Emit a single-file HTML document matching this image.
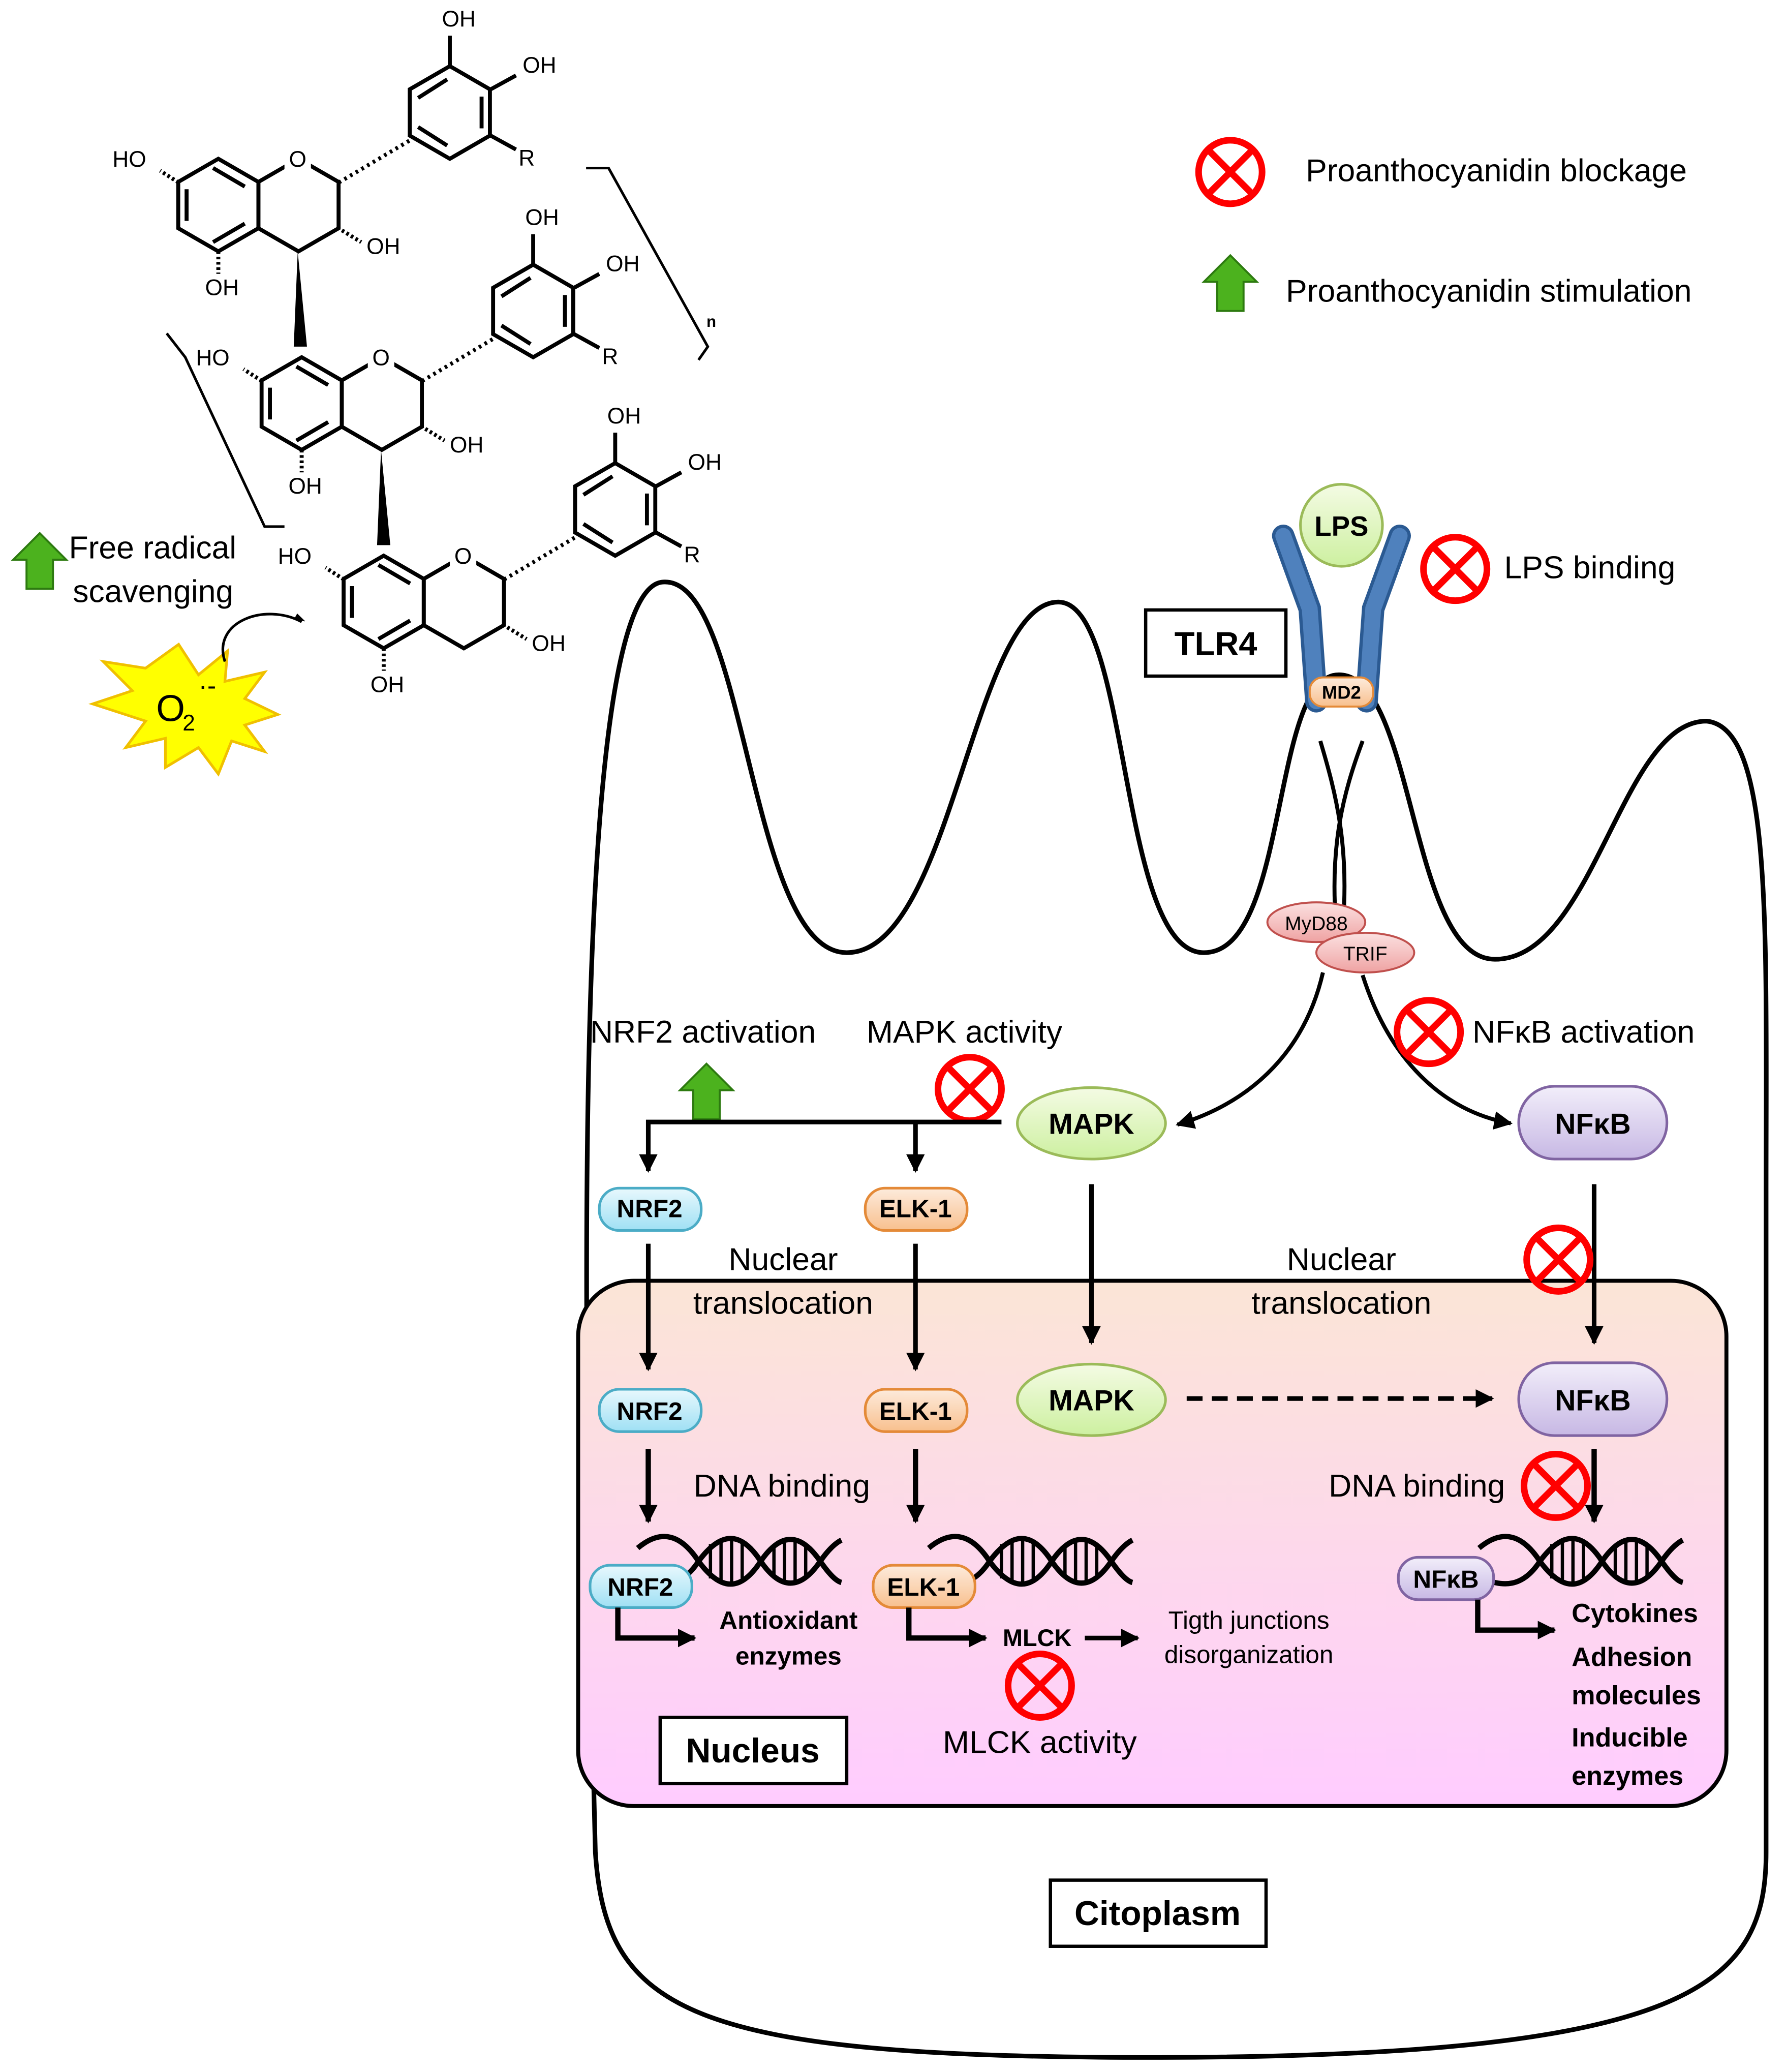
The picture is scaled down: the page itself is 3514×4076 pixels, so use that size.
<!DOCTYPE html>
<html><head><meta charset="utf-8"><style>
html,body{margin:0;padding:0;background:#fff}
svg{display:block}
text{font-family:"Liberation Sans","DejaVu Sans",sans-serif}
</style></head><body>
<svg width="3514" height="4076" viewBox="0 0 1350 1566" xmlns="http://www.w3.org/2000/svg">
<defs>
<linearGradient id="nuc" x1="0" y1="0" x2="0" y2="1"><stop offset="0" stop-color="#fbe5d6"/><stop offset="1" stop-color="#ffccff"/></linearGradient>
<linearGradient id="grn" x1="0" y1="0" x2="0" y2="1"><stop offset="0" stop-color="#f4fbe4"/><stop offset="1" stop-color="#cdf0a0"/></linearGradient>
<linearGradient id="pur" x1="0" y1="0" x2="0" y2="1"><stop offset="0" stop-color="#f2eefa"/><stop offset="1" stop-color="#c7b8e4"/></linearGradient>
<linearGradient id="blu" x1="0" y1="0" x2="0" y2="1"><stop offset="0" stop-color="#e8f8fd"/><stop offset="1" stop-color="#9fe0f4"/></linearGradient>
<linearGradient id="org" x1="0" y1="0" x2="0" y2="1"><stop offset="0" stop-color="#fdebdc"/><stop offset="1" stop-color="#f8c08e"/></linearGradient>
<linearGradient id="red" x1="0" y1="0" x2="0" y2="1"><stop offset="0" stop-color="#fbe1e1"/><stop offset="1" stop-color="#efa3a3"/></linearGradient>
<marker id="ah" markerWidth="8" markerHeight="8" refX="6" refY="4" orient="auto" markerUnits="userSpaceOnUse"><path d="M0,0 L14,4 L0,8z" transform="scale(0.6)"/></marker>
<marker id="a2" viewBox="0 0 10 10" markerWidth="14" markerHeight="14" refX="9" refY="5" orient="auto" markerUnits="userSpaceOnUse"><path d="M0,0L10,5L0,10z" fill="#000"/></marker>
<g id="blk"><circle r="24" fill="none" stroke="#f00" stroke-width="5"/><path d="M-16,-16L16,16M16,-16L-16,16" stroke="#f00" stroke-width="5"/></g>
<g id="up"><path d="M-10,40 L-10,18 L-20,18 L0,-2 L20,18 L10,18 L10,40z" fill="#4cb21e" stroke="#2d7a10" stroke-width="1.5"/></g>
<g id="unit">
<polygon points="0,-35 30.3,-17.5 30.3,17.5 0,35 -30.3,17.5 -30.3,-17.5" fill="none" stroke="#000" stroke-width="3"/>
<path d="M-24,-12 L-24,12 M-4,28 L20,14 M-4,-28 L20,-14" stroke="#000" stroke-width="3"/>
<polygon points="60.6,-35 90.9,-17.5 90.9,17.5 60.6,35 30.3,17.5 30.3,-17.5" fill="none" stroke="#000" stroke-width="3"/>
<rect x="50" y="-44" width="20" height="18" fill="#fff"/>
<text x="60" y="-29" font-size="17" text-anchor="middle">O</text>
<path d="M-30,-17 L-44,-26 M0,35 L0,52 M90,17 L108,28" stroke="#000" stroke-width="3" stroke-dasharray="2,2"/>
<text x="-80" y="-29" font-size="17">HO</text>
<text x="-10" y="68" font-size="17">OH</text>
<text x="112" y="37" font-size="17">OH</text>
<path d="M91,-17 L150,-52" stroke="#000" stroke-width="3" stroke-dasharray="2,3"/>
<g transform="translate(175,-70)">
<polygon points="0,-35 30.3,-17.5 30.3,17.5 0,35 -30.3,17.5 -30.3,-17.5" fill="none" stroke="#000" stroke-width="3"/>
<path d="M24,-12 L24,12 M-24,-11 L-2,-25 M-24,11 L-2,25" stroke="#000" stroke-width="3"/>
<path d="M0,-35 L0,-58 M30,-17 L50,-28 M30,17 L50,28" stroke="#000" stroke-width="3"/>
<text x="-6" y="-65" font-size="17">OH</text>
<text x="55" y="-30" font-size="17">OH</text>
<text x="52" y="40" font-size="17">R</text>
</g>
</g>
</defs>
<rect width="1350" height="1566" fill="#fff"/>
<use href="#unit" x="165" y="155"/>
<use href="#unit" x="228" y="305"/>
<use href="#unit" x="290" y="455"/>
<path d="M225,190 L222,262 L232,262z M288,340 L285,412 L295,412z" fill="#000"/>
<path d="M443,127 L460,127 L535,262 L528,272 M215,398 L200,398 L140,270 L126,252" fill="none" stroke="#000" stroke-width="2"/>
<text x="534" y="247" font-size="12" font-weight="bold">n</text>
<use href="#up" x="30" y="405"/>
<text x="52" y="422" font-size="24">Free radical</text>
<text x="55" y="455" font-size="24">scavenging</text>
<polygon points="135,487 150,510 172,492 170,515 200,508 185,528 210,540 185,548 200,568 175,560 165,585 150,565 125,580 125,558 95,565 110,545 70,532 100,522 78,500 110,505" fill="#ffff00" stroke="#f0c000" stroke-width="2"/>
<text x="118" y="545" font-size="28">O</text><text x="138" y="552" font-size="17">2</text><text x="150" y="525" font-size="20">·-</text>
<path d="M170,500 C160,470 200,455 228,470" fill="none" stroke="#000" stroke-width="2" marker-end="url(#ah)"/>
<use href="#blk" x="930" y="130"/>
<text x="987" y="137" font-size="24">Proanthocyanidin blockage</text>
<use href="#up" x="930" y="195"/>
<text x="972" y="228" font-size="24">Proanthocyanidin stimulation</text>
<path d="M450,1400 C440,1000 432,450 500,440 C565,432 565,720 640,720 C720,720 735,455 800,455 C855,455 845,720 910,720 C975,720 960,510 1012,510 C1070,510 1065,725 1130,725 C1205,725 1225,545 1290,545 C1340,550 1335,700 1335,900 L1335,1400 C1335,1500 1280,1555 870,1555 C520,1555 458,1520 450,1400 Z" fill="none" stroke="#000" stroke-width="3.5"/>
<rect x="437" y="968" width="868" height="397" rx="42" fill="url(#nuc)" stroke="#000" stroke-width="3"/>
<path d="M970,405 L990,460 L995,530 M1058,405 L1038,460 L1033,530" fill="none" stroke="#2b5a92" stroke-width="17" stroke-linecap="round"/>
<path d="M970,405 L990,460 L995,530 M1058,405 L1038,460 L1033,530" fill="none" stroke="#4f81bd" stroke-width="12" stroke-linecap="round"/>
<ellipse cx="1014" cy="397" rx="31" ry="31" fill="url(#grn)" stroke="#9bbb59" stroke-width="2"/>
<text x="1014" y="405" font-size="21" font-weight="bold" text-anchor="middle">LPS</text>
<rect x="990" y="512" width="48" height="22" rx="10" fill="url(#org)" stroke="#e48a38" stroke-width="1.5"/>
<text x="1014" y="528" font-size="14" font-weight="bold" text-anchor="middle">MD2</text>
<path d="M998,560 C1010,600 1020,640 1015,700 M1030,560 C1015,600 1005,640 1010,700" fill="none" stroke="#000" stroke-width="3"/>
<rect x="866" y="461" width="106" height="50" fill="#fff" stroke="#000" stroke-width="2.5"/>
<text x="919" y="495" font-size="25" font-weight="bold" text-anchor="middle">TLR4</text>
<use href="#blk" x="1100" y="430"/>
<text x="1137" y="437" font-size="24">LPS binding</text>
<ellipse cx="995" cy="697" rx="37" ry="15" fill="url(#red)" stroke="#c0504d" stroke-width="1.5"/>
<text x="995" y="703" font-size="15" text-anchor="middle">MyD88</text>
<ellipse cx="1032" cy="720" rx="37" ry="15" fill="url(#red)" stroke="#c0504d" stroke-width="1.5"/>
<text x="1032" y="726" font-size="15" text-anchor="middle">TRIF</text>
<path d="M1000,735 C985,800 940,835 890,850" fill="none" stroke="#000" stroke-width="3" marker-end="url(#a2)"/>
<path d="M1030,737 C1050,800 1090,840 1142,849" fill="none" stroke="#000" stroke-width="3" marker-end="url(#a2)"/>
<use href="#blk" x="1080" y="780"/>
<text x="1113" y="788" font-size="24">NFκB activation</text>
<text x="446" y="788" font-size="24">NRF2 activation</text>
<text x="655" y="788" font-size="24">MAPK activity</text>
<use href="#up" x="534" y="806"/>
<use href="#blk" x="733" y="823"/>
<path d="M757,848 L490,848 L490,885" fill="none" stroke="#000" stroke-width="3.5" marker-end="url(#a2)"/>
<path d="M692,848 L692,885" stroke="#000" stroke-width="3.5" marker-end="url(#a2)"/>
<ellipse cx="825" cy="849" rx="56" ry="27" fill="url(#grn)" stroke="#9bbb59" stroke-width="2"/>
<text x="825" y="857" font-size="22" font-weight="bold" text-anchor="middle">MAPK</text>
<rect x="1148" y="821" width="112" height="55" rx="27" fill="url(#pur)" stroke="#8064a2" stroke-width="2"/>
<text x="1204" y="857" font-size="22" font-weight="bold" text-anchor="middle">NFκB</text>
<rect x="453" y="898" width="77" height="32" rx="15" fill="url(#blu)" stroke="#4bacc6" stroke-width="2"/>
<text x="491" y="920" font-size="19" font-weight="bold" text-anchor="middle">NRF2</text>
<rect x="654" y="898" width="77" height="32" rx="15" fill="url(#org)" stroke="#e48a38" stroke-width="2"/>
<text x="692" y="920" font-size="19" font-weight="bold" text-anchor="middle">ELK-1</text>
<text x="592" y="960" font-size="24" text-anchor="middle">Nuclear</text>
<text x="592" y="993" font-size="24" text-anchor="middle">translocation</text>
<text x="1014" y="960" font-size="24" text-anchor="middle">Nuclear</text>
<text x="1014" y="993" font-size="24" text-anchor="middle">translocation</text>
<path d="M490,940 L490,1035" stroke="#000" stroke-width="3.5" marker-end="url(#a2)"/>
<path d="M692,940 L692,1035" stroke="#000" stroke-width="3.5" marker-end="url(#a2)"/>
<path d="M825,895 L825,1015" stroke="#000" stroke-width="3.5" marker-end="url(#a2)"/>
<path d="M1205,895 L1205,1015" stroke="#000" stroke-width="3.5" marker-end="url(#a2)"/>
<use href="#blk" x="1178" y="952"/>
<rect x="453" y="1050" width="77" height="32" rx="15" fill="url(#blu)" stroke="#4bacc6" stroke-width="2"/>
<text x="491" y="1073" font-size="19" font-weight="bold" text-anchor="middle">NRF2</text>
<rect x="654" y="1050" width="77" height="32" rx="15" fill="url(#org)" stroke="#e48a38" stroke-width="2"/>
<text x="692" y="1073" font-size="19" font-weight="bold" text-anchor="middle">ELK-1</text>
<ellipse cx="825" cy="1058" rx="56" ry="27" fill="url(#grn)" stroke="#9bbb59" stroke-width="2"/>
<text x="825" y="1066" font-size="22" font-weight="bold" text-anchor="middle">MAPK</text>
<rect x="1148" y="1030" width="112" height="55" rx="27" fill="url(#pur)" stroke="#8064a2" stroke-width="2"/>
<text x="1204" y="1066" font-size="22" font-weight="bold" text-anchor="middle">NFκB</text>
<path d="M897,1057 L1128,1057" stroke="#000" stroke-width="3.5" stroke-dasharray="12,7" marker-end="url(#a2)"/>
<path d="M490,1095 L490,1150" stroke="#000" stroke-width="4" marker-end="url(#a2)"/>
<path d="M692,1095 L692,1150" stroke="#000" stroke-width="4" marker-end="url(#a2)"/>
<path d="M1205,1095 L1205,1150" stroke="#000" stroke-width="4" marker-end="url(#a2)"/>
<text x="591" y="1131" font-size="24" text-anchor="middle">DNA binding</text>
<text x="1071" y="1131" font-size="24" text-anchor="middle">DNA binding</text>
<use href="#blk" x="1176" y="1123"/>
<g id="dna" fill="none" stroke="#000" stroke-width="4">
<path d="M482,1170 C500,1155 515,1160 528,1180 C545,1203 560,1203 575,1180 C590,1158 605,1158 620,1180 C627,1190 632,1195 636,1196"/>
<path d="M482,1192 C500,1200 515,1200 528,1180 C545,1157 560,1157 575,1180 C590,1202 605,1202 620,1180 C627,1170 632,1166 636,1164"/>
<path d="M537,1167v26M545,1163v34M553,1163v34M561,1167v26M585,1167v26M593,1163v34M601,1163v34M609,1167v26" stroke-width="2.5"/>
</g>
<use href="#dna" x="220"/>
<use href="#dna" x="636"/>
<rect x="446" y="1183" width="77" height="32" rx="15" fill="url(#blu)" stroke="#4bacc6" stroke-width="2"/>
<text x="484" y="1206" font-size="19" font-weight="bold" text-anchor="middle">NRF2</text>
<rect x="660" y="1183" width="77" height="32" rx="15" fill="url(#org)" stroke="#e48a38" stroke-width="2"/>
<text x="698" y="1206" font-size="19" font-weight="bold" text-anchor="middle">ELK-1</text>
<rect x="1057" y="1177" width="72" height="32" rx="15" fill="url(#pur)" stroke="#8064a2" stroke-width="2"/>
<text x="1093" y="1200" font-size="19" font-weight="bold" text-anchor="middle">NFκB</text>
<path d="M467,1215 L467,1238 L525,1238" fill="none" stroke="#000" stroke-width="4" marker-end="url(#a2)"/>
<path d="M687,1215 L687,1238 L745,1238" fill="none" stroke="#000" stroke-width="4" marker-end="url(#a2)"/>
<path d="M1117,1209 L1117,1232 L1175,1232" fill="none" stroke="#000" stroke-width="4" marker-end="url(#a2)"/>
<text x="596" y="1231" font-size="19" font-weight="bold" text-anchor="middle">Antioxidant</text>
<text x="596" y="1258" font-size="19" font-weight="bold" text-anchor="middle">enzymes</text>
<text x="758" y="1244" font-size="18" font-weight="bold">MLCK</text>
<path d="M820,1238 L860,1238" stroke="#000" stroke-width="3.5" marker-end="url(#a2)"/>
<text x="944" y="1231" font-size="19" text-anchor="middle">Tigth junctions</text>
<text x="944" y="1257" font-size="19" text-anchor="middle">disorganization</text>
<use href="#blk" x="786" y="1274"/>
<text x="786" y="1325" font-size="24" text-anchor="middle">MLCK activity</text>
<text x="1188" y="1226" font-size="20" font-weight="bold">Cytokines</text>
<text x="1188" y="1259" font-size="20" font-weight="bold">Adhesion</text>
<text x="1188" y="1288" font-size="20" font-weight="bold">molecules</text>
<text x="1188" y="1320" font-size="20" font-weight="bold">Inducible</text>
<text x="1188" y="1349" font-size="20" font-weight="bold">enzymes</text>
<rect x="499" y="1298" width="141" height="50" fill="#fff" stroke="#000" stroke-width="2.5"/>
<text x="569" y="1332" font-size="26" font-weight="bold" text-anchor="middle">Nucleus</text>
<rect x="794" y="1421" width="163" height="50" fill="#fff" stroke="#000" stroke-width="2.5"/>
<text x="875" y="1455" font-size="26" font-weight="bold" text-anchor="middle">Citoplasm</text>
</svg>
</body></html>
